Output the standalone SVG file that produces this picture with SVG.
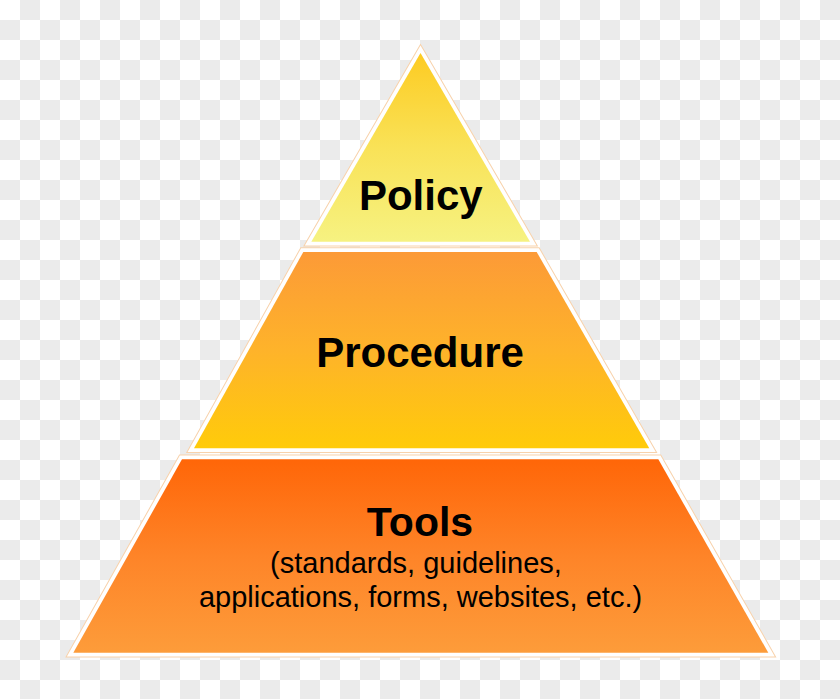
<svg xmlns="http://www.w3.org/2000/svg" width="840" height="699" viewBox="0 0 840 699">
  <defs>
    <pattern id="checker" patternUnits="userSpaceOnUse" x="0" y="0" width="40" height="40">
      <rect x="0" y="0" width="40" height="40" fill="#ffffff"/>
      <rect x="20" y="0" width="20" height="20" fill="#ebebeb"/>
      <rect x="0" y="20" width="20" height="20" fill="#ebebeb"/>
    </pattern>
    <linearGradient id="gTop" x1="0" y1="0" x2="0" y2="1">
      <stop offset="0" stop-color="#fdcb22"/>
      <stop offset="0.5" stop-color="#f9e257"/>
      <stop offset="1" stop-color="#f6f281"/>
    </linearGradient>
    <linearGradient id="gMid" x1="0" y1="0" x2="0" y2="1">
      <stop offset="0" stop-color="#fc9a37"/>
      <stop offset="0.5" stop-color="#feb32a"/>
      <stop offset="1" stop-color="#ffcb0a"/>
    </linearGradient>
    <linearGradient id="gBot" x1="0" y1="0" x2="0" y2="1">
      <stop offset="0" stop-color="#ff6608"/>
      <stop offset="0.5" stop-color="#fe8428"/>
      <stop offset="1" stop-color="#fd9c3a"/>
    </linearGradient>
  </defs>
  <style>
    .halo { fill: none; stroke: #f8d2ab; stroke-width: 9.5; stroke-linejoin: miter; }
    .rim { fill: none; stroke: #ffffff; stroke-width: 7.5; stroke-linejoin: miter; }
    .title { font-family: "Liberation Sans", Arial, sans-serif; font-weight: bold; fill: #000000; text-anchor: middle; }
    .sub { font-family: "Liberation Sans", Arial, sans-serif; font-weight: normal; fill: #000000; text-anchor: middle; font-size: 29px; }
  </style>

  <rect x="0" y="0" width="840" height="699" fill="url(#checker)"/>

  <g id="tier-tools">
    <polygon class="halo" points="182,459.3 658.3,459.3 768.3,652.7 73.3,652.7"/>
    <polygon class="rim" points="182,459.3 658.3,459.3 768.3,652.7 73.3,652.7"/>
    <polygon fill="url(#gBot)" points="182,459.3 658.3,459.3 768.3,652.7 73.3,652.7"/>
    <text class="title" x="420" y="536" font-size="41">Tools</text>
    <text class="sub" x="416" y="572.5">(standards, guidelines,</text>
    <text class="sub" x="420.5" y="606.7">applications, forms, websites, etc.)</text>
  </g>

  <g id="tier-procedure">
    <polygon class="halo" points="303.3,252 536.7,252 649.3,448.3 194,448.3"/>
    <polygon class="rim" points="303.3,252 536.7,252 649.3,448.3 194,448.3"/>
    <polygon fill="url(#gMid)" points="303.3,252 536.7,252 649.3,448.3 194,448.3"/>
    <text class="title" x="420" y="366.7" font-size="42">Procedure</text>
  </g>

  <g id="tier-policy">
    <polygon class="halo" points="420.5,53 530,241.7 311.3,241.7"/>
    <polygon class="rim" points="420.5,53 530,241.7 311.3,241.7"/>
    <polygon fill="url(#gTop)" points="420.5,53 530,241.7 311.3,241.7"/>
    <text class="title" x="420.8" y="210" font-size="42">Policy</text>
  </g>
</svg>
